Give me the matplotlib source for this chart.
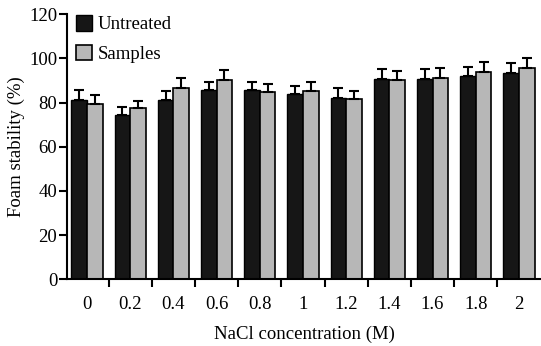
import matplotlib
matplotlib.use('Agg')
import matplotlib.pyplot as plt
import numpy as np

plt.rcParams['font.family'] = ['Liberation Serif', 'DejaVu Serif']

conc_labels = ['0', '0.2', '0.4', '0.6', '0.8', '1', '1.2', '1.4', '1.6', '1.8', '2']
untreated = [81.2, 74.3, 81.2, 85.7, 85.7, 83.9, 82.0, 90.7, 90.7, 91.9, 93.5]
untreated_err = [4.4, 3.8, 4.0, 3.8, 3.8, 3.8, 4.5, 4.4, 4.3, 4.2, 4.3]
samples = [79.3, 77.3, 86.8, 90.2, 84.7, 85.4, 81.5, 90.1, 91.1, 93.8, 95.5]
samples_err = [4.0, 3.2, 4.5, 4.4, 3.7, 4.0, 3.9, 4.3, 4.5, 4.7, 4.5]

x = np.arange(len(conc_labels))
w = 0.36

fig = plt.figure(figsize=(5.41, 3.46), dpi=100)
ax = fig.add_axes([0.124, 0.193, 0.876, 0.766])

ekw = dict(ecolor='black', elinewidth=1.5, capsize=3.5, capthick=1.5)
ax.bar(x - w/2, untreated, w, color='#161616', edgecolor='black', linewidth=1.0,
       yerr=[np.zeros(len(x)), untreated_err], error_kw=ekw, label='Untreated')
ax.bar(x + w/2, samples, w, color='#b7b7b7', edgecolor='black', linewidth=1.2,
       yerr=[np.zeros(len(x)), samples_err], error_kw=ekw, label='Samples')

ax.set_xlim(-0.46, 10.51)
ax.set_ylim(0, 120)
ax.set_yticks([0, 20, 40, 60, 80, 100, 120])
ax.set_xticks(x)
ax.set_xticklabels(conc_labels)
ax.set_xticks(x[:-1] + 0.5, minor=True)
ax.tick_params(axis='x', which='major', length=0, pad=12, labelsize=13.5)
ax.tick_params(axis='x', which='minor', length=6, width=1.5, direction='out')
ax.tick_params(axis='y', length=6, width=1.5, direction='out', labelsize=13.5, pad=1)

for s in ['top', 'right']:
    ax.spines[s].set_visible(False)
for s in ['left', 'bottom']:
    ax.spines[s].set_linewidth(1.5)

ax.set_xlabel('NaCl concentration (M)', fontsize=13.5, labelpad=9)
ax.set_ylabel('Foam stability (%)', fontsize=13.5, labelpad=3)

ax.legend(loc='upper left', frameon=False, fontsize=13.5, handlelength=0.9,
          handleheight=0.9, handletextpad=0.3, labelspacing=0.6,
          borderaxespad=0.0, bbox_to_anchor=(0.002, 1.025))

fig.savefig('out.png', dpi=100)
plt.close(fig)
